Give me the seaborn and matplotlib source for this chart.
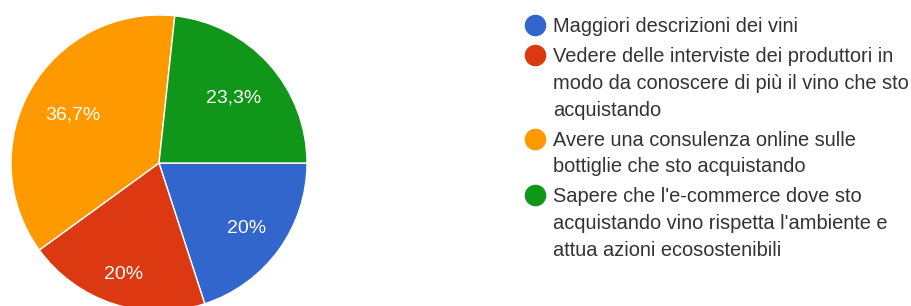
"""
Pie chart: preferenze e-commerce vino
"""

import matplotlib
matplotlib.use("Agg")
import numpy as np
import matplotlib.pyplot as plt
from matplotlib.lines import Line2D
import seaborn as sns

labels = [
    "Maggiori descrizioni dei vini",
    "Vedere delle interviste dei produttori in\nmodo da conoscere di più il vino che sto\nacquistando",
    "Avere una consulenza online sulle\nbottiglie che sto acquistando",
    "Sapere che l'e-commerce dove sto\nacquistando vino rispetta l'ambiente e\nattua azioni ecosostenibili",
]
values = [20.0, 20.0, 36.7, 23.3]
colors = ["#3366CC", "#DC3912", "#FF9900", "#109618"]
# radial distance of each percentage label (fraction of radius)
label_dist = [0.73, 0.78, 0.67, 0.68]


def pct_label(p):
    s = f"{p:.1f}".replace(".", ",")
    return s[:-2] + "%" if s.endswith(",0") else s + "%"


sns.set_theme(style="white")
plt.rcParams["font.family"] = ["Liberation Sans", "DejaVu Sans"]

fig = plt.figure(figsize=(9.11, 3.06), dpi=100)
ax = fig.add_axes([11 / 911, -5 / 306, 296 / 911, 296 / 306])

wedges, _, autotexts = ax.pie(
    values,
    colors=colors,
    startangle=0,
    counterclock=False,
    autopct=pct_label,
    pctdistance=0.71,
    wedgeprops=dict(edgecolor="white", linewidth=1),
    textprops=dict(color="white", fontsize=14),
)
for w, t, d in zip(wedges, autotexts, label_dist):
    ang = np.deg2rad((w.theta1 + w.theta2) / 2)
    t.set_position((d * np.cos(ang), d * np.sin(ang)))
    t.set_va("center_baseline")

ax.set_xlim(-1, 1)
ax.set_ylim(-1, 1)
ax.set_aspect("equal")
ax.axis("off")

handles = [Line2D([], [], marker="o", linestyle="", markersize=14.5,
                  markerfacecolor=c, markeredgecolor=c) for c in colors]
leg = fig.legend(
    handles, labels,
    loc="upper left",
    bbox_to_anchor=(525 / 911, 1 - 17.5 / 306),
    frameon=False,
    fontsize=14.4,
    handlelength=1.0,
    handleheight=1.0,
    handletextpad=0.4,
    labelspacing=0.55,
    borderpad=0,
    borderaxespad=0,
)
for t in leg.get_texts():
    t.set_color("#333333")
    t.set_linespacing(1.51)
for col in leg._legend_handle_box.get_children():
    for row in col.get_children():
        row.align = "top"

fig.savefig("out.png", dpi=100)
